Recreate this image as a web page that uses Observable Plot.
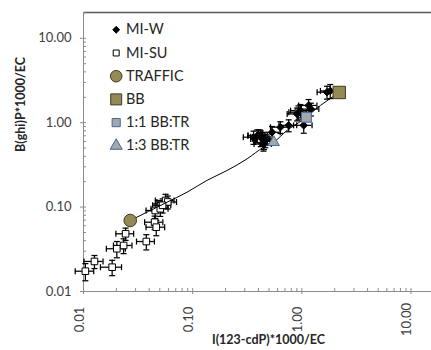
<!DOCTYPE html>
<html>
<head>
<meta charset="utf-8">
<script src="https://cdn.jsdelivr.net/npm/d3@7"></script>
<script src="https://cdn.jsdelivr.net/npm/@observablehq/plot@0.6"></script>
<style>
  body { margin: 0; background: #fff; }
  #chart { width: 431px; height: 350px; overflow: hidden; }
  svg { font-family: Lato, "Open Sans", sans-serif; }
</style>
</head>
<body>
<div id="chart"></div>
<script>
// ---- data ----
const xTitle = "I(123-cdP)*1000/EC";
const yTitle = "B(ghi)P*1000/EC";
const majorTicks = [0.01, 0.1, 1, 10];

// MI-SU (open squares)
const suX = [0.0104, 0.0126, 0.0183, 0.0202, 0.0233, 0.0243, 0.0376, 0.0448, 0.0464, 0.0454, 0.0505, 0.0565, 0.0591, 0.053, 0.93, 0.42, 0.45];
const suY = [0.0174, 0.0227, 0.0194, 0.0321, 0.0351, 0.0483, 0.0391, 0.0662, 0.0578, 0.0912, 0.0955, 0.1197, 0.115, 0.105, 1.33, 0.64, 0.60];
const suXErr = [0.0020, 0.0025, 0.0040, 0.0040, 0.0045, 0.0045, 0.0070, 0.0085, 0.0090, 0.0080, 0.0090, 0.0110, 0.0120, 0.0100, 0.17, 0.08, 0.08];
const suYErr = [0.0040, 0.0040, 0.0040, 0.0070, 0.0070, 0.0080, 0.0080, 0.0120, 0.0120, 0.0180, 0.0180, 0.0220, 0.0200, 0.0200, 0.25, 0.12, 0.12];

// MI-W (filled diamonds)
const wX = [0.361, 0.402, 0.432, 0.463, 0.42, 0.39, 0.533, 0.636, 0.757, 0.969, 1.154, 1.04, 1.70, 1.82, 0.904, 1.21, 0.445];
const wY = [0.673, 0.705, 0.644, 0.615, 0.68, 0.70, 0.77, 0.885, 0.93, 1.39, 1.60, 0.93, 2.30, 2.38, 1.27, 1.45, 0.56];
const wXErr = [0.07, 0.08, 0.08, 0.09, 0.08, 0.07, 0.10, 0.12, 0.14, 0.18, 0.22, 0.20, 0.32, 0.34, 0.17, 0.22, 0.08];
const wYErr = [0.12, 0.12, 0.11, 0.11, 0.12, 0.12, 0.13, 0.14, 0.15, 0.25, 0.28, 0.18, 0.40, 0.45, 0.22, 0.25, 0.10];

// Sources and mixtures
const trafficX = [0.0268], trafficY = [0.0694];
const bbX = [2.20], bbY = [2.28];
const mix11X = [1.10], mix11Y = [1.16];
const mix13X = [0.552], mix13Y = [0.587];

// mixing curve
const curveX = [0.0268, 0.058, 0.0887, 0.135, 0.206, 0.315, 0.447, 0.552, 0.731, 1.0, 1.48, 2.20];
const curveY = [0.0694, 0.114, 0.150, 0.207, 0.271, 0.373, 0.513, 0.587, 0.81, 1.06, 1.60, 2.28];

const legendLabels = ["MI-W", "MI-SU", "TRAFFIC", "BB", "1:1 BB:TR", "1:3 BB:TR"];

// ---- build ----
const mk = (xs, ys, xe, ye) => xs.map((x, i) => ({x, y: ys[i], xe: xe ? xe[i] : 0, ye: ye ? ye[i] : 0}));
const su = mk(suX, suY, suXErr, suYErr);
const w = mk(wX, wY, wXErr, wYErr);
const traffic = mk(trafficX, trafficY);
const bb = mk(bbX, bbY);
const m11 = mk(mix11X, mix11Y);
const m13 = mk(mix13X, mix13Y);
const curve = mk(curveX, curveY);

const W = 431, H = 350;
const mL = 83, mT = 12, mR = 0, mB = 59;
const plotW = W - mL - mR, plotH = H - mT - mB;
const xDomain = [0.01, 15.4];
const yDomain = [0.01, 20.2];

const minorOf = (lo, hi) => {
  const out = [];
  for (let e = -2; e <= 1; e++) for (let k = 2; k <= 9; k++) {
    const v = k * Math.pow(10, e);
    if (v > lo && v < hi) out.push(v);
  }
  return out;
};
const xMinor = minorOf(xDomain[0], xDomain[1]);
const yMinor = minorOf(yDomain[0], yDomain[1]);

const vBar = {draw(c, size) { const r = Math.sqrt(size / Math.PI); c.moveTo(0, -r); c.lineTo(0, r); }};
const hBar = {draw(c, size) { const r = Math.sqrt(size / Math.PI); c.moveTo(-r, 0); c.lineTo(r, 0); }};

const ew = 1.25;
function errMarks(data) {
  return [
    Plot.ruleY(data, {y: "y", x1: d => d.x - d.xe, x2: d => d.x + d.xe, stroke: "#000", strokeWidth: ew}),
    Plot.ruleX(data, {x: "x", y1: d => d.y - d.ye, y2: d => d.y + d.ye, stroke: "#000", strokeWidth: ew}),
    Plot.dot(data, {x: d => d.x - d.xe, y: "y", symbol: vBar, r: 3, stroke: "#000", strokeWidth: ew}),
    Plot.dot(data, {x: d => d.x + d.xe, y: "y", symbol: vBar, r: 3, stroke: "#000", strokeWidth: ew}),
    Plot.dot(data, {x: "x", y: d => d.y - d.ye, symbol: hBar, r: 3, stroke: "#000", strokeWidth: ew}),
    Plot.dot(data, {x: "x", y: d => d.y + d.ye, symbol: hBar, r: 3, stroke: "#000", strokeWidth: ew})
  ];
}

const olive = "#948A54", oliveStroke = "#3F3B24";
const grayFill = "#A6A6A6", blueStroke = "#3A6AA8";
const styles = [
  {symbol: "diamond2", r: 3.1, fill: "#000", stroke: "#000", strokeWidth: 1},
  {symbol: "square2", r: 3.8, fill: "#fff", stroke: "#000", strokeWidth: 1},
  {symbol: "circle", r: 5.8, fill: olive, stroke: oliveStroke, strokeWidth: 1},
  {symbol: "square", r: 6.2, fill: olive, stroke: oliveStroke, strokeWidth: 1},
  {symbol: "square", r: 4.6, fill: grayFill, stroke: blueStroke, strokeWidth: 1},
  {symbol: "triangle", r: 4.5, fill: grayFill, stroke: blueStroke, strokeWidth: 1}
];

const legendMarks = [];
legendLabels.forEach((lab, i) => {
  const dy = 17.3 + i * 23.2;
  legendMarks.push(Plot.dot([lab], {frameAnchor: "top-left", dx: 32.7, dy, ...styles[i]}));
  legendMarks.push(Plot.text([lab], {frameAnchor: "top-left", dx: 42.5, dy, text: d => d, textAnchor: "start",
    fontSize: 14.5, fill: "#262626", lineAnchor: "middle"}));
});

const axisGray = "#8C8C8C";
const fmt = d3.format(".2f");

const chart = Plot.plot({
  width: W, height: H,
  marginLeft: mL, marginTop: mT, marginRight: mR, marginBottom: mB,
  x: {type: "log", domain: xDomain, axis: null},
  y: {type: "log", domain: yDomain, axis: null},
  style: {fontFamily: "Lato, 'Open Sans', sans-serif", background: "#fff"},
  marks: [
    // frame lines
    Plot.ruleY([yDomain[1]], {stroke: "#595959", strokeWidth: 1.6}),
    Plot.ruleX([xDomain[0]], {stroke: axisGray, strokeWidth: 1}),
    Plot.ruleY([yDomain[0]], {stroke: axisGray, strokeWidth: 1}),
    // inner ticks
    Plot.tickY(yMinor, {y: d => d, insetRight: plotW - 3, stroke: axisGray}),
    Plot.tickY(majorTicks, {y: d => d, insetRight: plotW - 3, stroke: axisGray}),
    Plot.tickX(xMinor, {x: d => d, insetTop: plotH - 3, stroke: axisGray}),
    Plot.tickX(majorTicks, {x: d => d, insetTop: plotH - 3, stroke: axisGray}),
    // outer ticks + labels
    Plot.axisY({ticks: majorTicks, tickSize: 3, tickPadding: 9, tickFormat: fmt, label: null,
      stroke: axisGray, fill: "#404040", fontSize: 13}),
    Plot.axisX({ticks: majorTicks, tickSize: 3, tickFormat: () => "", label: null, stroke: axisGray}),
    Plot.text(majorTicks, {x: d => d, frameAnchor: "bottom", dy: 28, rotate: -90, text: d => fmt(d),
      fontSize: 13, fill: "#404040", textAnchor: "middle"}),
    // titles
    Plot.text([yTitle], {frameAnchor: "left", dx: -63, rotate: -90, text: d => d, fontWeight: "bold",
      fontSize: 12.5, fill: "#262626"}),
    Plot.text([xTitle], {frameAnchor: "bottom", dx: 11, dy: 52, text: d => d, fontWeight: "bold",
      fontSize: 12.5, fill: "#262626"}),
    // error bars
    ...errMarks(su),
    ...errMarks(w),
    // points
    Plot.dot(su, {x: "x", y: "y", ...styles[1], r: 4.2}),
    Plot.dot(w, {x: "x", y: "y", ...styles[0], r: 3.4}),
    // mixing curve
    Plot.line(curve, {x: "x", y: "y", stroke: "#000", strokeWidth: 1, curve: "monotone-x"}),
    Plot.dot(traffic, {x: "x", y: "y", ...styles[2], r: 6.3}),
    Plot.dot(m13, {x: "x", y: "y", ...styles[5], r: 4.2}),
    Plot.dot(m11, {x: "x", y: "y", ...styles[4], r: 5.6}),
    Plot.dot(bb, {x: "x", y: "y", ...styles[3], r: 7}),
    ...legendMarks
  ]
});
document.getElementById("chart").appendChild(chart);
</script>
</body>
</html>
